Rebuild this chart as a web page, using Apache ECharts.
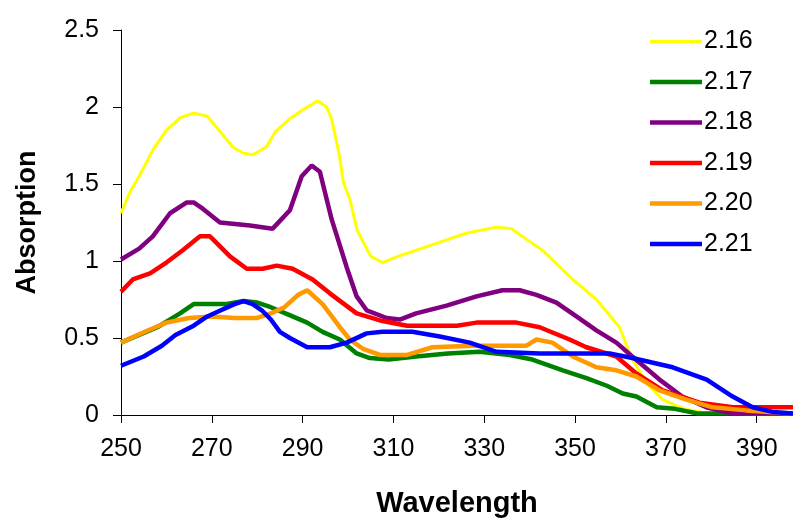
<!DOCTYPE html>
<html>
<head>
<meta charset="utf-8">
<script src="https://cdn.jsdelivr.net/npm/echarts@6/dist/echarts.min.js"></script>
<style>
  html, body { margin: 0; padding: 0; background: #fff; }
  #chart { width: 793px; height: 520px; }
</style>
</head>
<body>
<div id="chart"></div>
<script>
// values
const names = ["2.16", "2.17", "2.18", "2.19", "2.20", "2.21"];
const colors = ["#FFFF00", "#008000", "#800080", "#FF0000", "#FF9900", "#0000FF"];
const widths = [3, 4.5, 4.5, 4.5, 4.5, 4.5];

const wl216 = [250, 252, 254, 257, 260, 263, 266, 269, 271, 274.6, 277, 279, 282, 284, 287, 290, 293.3, 295.3, 296.4, 298, 299, 300.4, 302, 305, 307.6, 311, 318, 326, 332.7, 336, 338.4, 342.8, 349.5, 354.7, 359.8, 362.6, 366, 369.3, 374, 379, 385, 392, 398];
const ab216 = [1.31, 1.45, 1.55, 1.72, 1.85, 1.93, 1.96, 1.94, 1.87, 1.74, 1.70, 1.69, 1.74, 1.84, 1.92, 1.98, 2.04, 2.0, 1.92, 1.7, 1.51, 1.40, 1.2, 1.03, 0.99, 1.03, 1.10, 1.18, 1.22, 1.21, 1.16, 1.07, 0.88, 0.75, 0.57, 0.36, 0.2, 0.10, 0.04, 0.01, 0.01, 0.0, 0.0];

const wl217 = [250, 254, 258, 263, 266, 270, 273, 277, 280, 283, 287, 291, 294.4, 298.2, 301.9, 304.8, 309, 315, 322, 329, 335.6, 340.6, 347.3, 352.5, 357, 360.5, 363.5, 368, 372, 377, 385, 398];
const ab217 = [0.47, 0.52, 0.57, 0.66, 0.72, 0.72, 0.72, 0.74, 0.73, 0.70, 0.65, 0.60, 0.54, 0.49, 0.40, 0.37, 0.36, 0.38, 0.40, 0.41, 0.39, 0.36, 0.29, 0.24, 0.19, 0.14, 0.12, 0.05, 0.04, 0.01, 0.01, 0.01];

const wl218 = [250, 254, 257, 260.8, 264.5, 266, 268, 271.8, 278.4, 283.4, 287.2, 289.8, 292, 293.8, 296.4, 299.7, 301.9, 304.1, 308.5, 311.4, 315, 321.7, 328.3, 334, 337.8, 341.5, 345.9, 350.3, 354.7, 359.1, 362.6, 368.6, 373.6, 378.9, 384.7, 398];
const ab218 = [1.01, 1.08, 1.16, 1.31, 1.38, 1.38, 1.34, 1.25, 1.23, 1.21, 1.33, 1.55, 1.62, 1.58, 1.27, 0.96, 0.77, 0.68, 0.63, 0.62, 0.66, 0.71, 0.77, 0.81, 0.81, 0.78, 0.73, 0.64, 0.55, 0.47, 0.38, 0.23, 0.12, 0.05, 0.01, 0.01];

const wl219 = [250, 252.6, 256.4, 260, 263.6, 267.4, 269.6, 274, 277.7, 281.2, 284.3, 287.8, 292.2, 296, 301.9, 307.6, 313, 324, 328.3, 337.1, 342.2, 348.8, 352.5, 359.1, 363.5, 369.3, 377.4, 384.7, 398];
const ab219 = [0.80, 0.88, 0.92, 0.99, 1.07, 1.16, 1.16, 1.03, 0.95, 0.95, 0.97, 0.95, 0.88, 0.79, 0.66, 0.61, 0.58, 0.58, 0.60, 0.60, 0.57, 0.49, 0.44, 0.38, 0.27, 0.16, 0.08, 0.05, 0.05];

const wl220 = [250, 256, 260, 265, 270, 275, 280, 283, 286, 289, 291, 294.4, 298.2, 300.4, 303.3, 307, 313, 318.6, 327.4, 339.3, 341.5, 345, 349.5, 354.7, 359.1, 363.5, 368.6, 374.5, 380.3, 387.7, 398];
const ab220 = [0.47, 0.55, 0.60, 0.63, 0.64, 0.63, 0.63, 0.66, 0.70, 0.78, 0.81, 0.72, 0.57, 0.49, 0.43, 0.39, 0.39, 0.44, 0.45, 0.45, 0.49, 0.47, 0.38, 0.31, 0.29, 0.25, 0.16, 0.10, 0.05, 0.03, 0.01];

const wl221 = [250, 255, 259, 262, 266, 269, 272, 275, 277, 279, 281, 283, 285, 287.2, 291, 296, 299.7, 304.1, 307.6, 314.2, 320.2, 326.8, 332.7, 342.2, 357.6, 362.6, 371.5, 379, 384.7, 389.1, 393.5, 398];
const ab221 = [0.32, 0.38, 0.45, 0.52, 0.58, 0.64, 0.68, 0.72, 0.74, 0.72, 0.68, 0.62, 0.54, 0.50, 0.44, 0.44, 0.47, 0.53, 0.54, 0.54, 0.51, 0.47, 0.41, 0.40, 0.40, 0.37, 0.31, 0.23, 0.12, 0.05, 0.02, 0.01];

const wavelengths = [wl216, wl217, wl218, wl219, wl220, wl221];
const absorptions = [ab216, ab217, ab218, ab219, ab220, ab221];

const font = "'Liberation Sans', Arial, sans-serif";

const chart = echarts.init(document.getElementById("chart"));

const series = names.map((name, i) => ({
    name: name,
    type: "line",
    symbol: "none",
    smooth: false,
    animation: false,
    data: wavelengths[i].map((x, j) => [x, absorptions[i][j]]),
    lineStyle: { color: colors[i], width: widths[i] },
    itemStyle: { color: colors[i] },
}));

// legend icon is a plain line, thinner for the yellow one
const legendData = names.map((name, i) => ({
    name: name,
    icon: "path://M0,0 L52,0 L52," + widths[i] + " L0," + widths[i] + " Z",
}));

chart.setOption({
    backgroundColor: "#ffffff",
    animation: false,
    grid: { left: 121, right: 0, top: 30, bottom: 105, outerBoundsMode: "none" },
    legend: {
        orient: "vertical",
        left: 645,
        top: 24,
        itemWidth: 52,
        itemHeight: 5,
        itemGap: 15.5,
        textStyle: { fontFamily: font, fontSize: 25, color: "#000", padding: [0, 0, 0, -3] },
        data: legendData,
    },
    xAxis: {
        type: "value",
        min: 250,
        max: 398,
        interval: 20,
        name: "Wavelength",
        nameLocation: "middle",
        nameGap: 74,
        nameTextStyle: { fontFamily: font, fontSize: 29, fontWeight: "bold", color: "#000" },
        axisLine: { lineStyle: { color: "#000", width: 1 } },
        axisTick: { show: true, inside: false, length: 8, lineStyle: { color: "#000" } },
        axisLabel: { fontFamily: font, fontSize: 25, color: "#000", margin: 22, showMaxLabel: false },
        splitLine: { show: false },
    },
    yAxis: {
        type: "value",
        min: 0,
        max: 2.5,
        interval: 0.5,
        name: "Absorption",
        nameLocation: "middle",
        nameGap: 80,
        nameTextStyle: { fontFamily: font, fontSize: 27, fontWeight: "bold", color: "#000" },
        axisLine: { show: true, lineStyle: { color: "#000", width: 1 } },
        axisTick: { show: true, inside: false, length: 8, lineStyle: { color: "#000" } },
        axisLabel: { fontFamily: font, fontSize: 25, color: "#000", margin: 22 },
        splitLine: { show: false },
    },
    series: series,
});
</script>
</body>
</html>
